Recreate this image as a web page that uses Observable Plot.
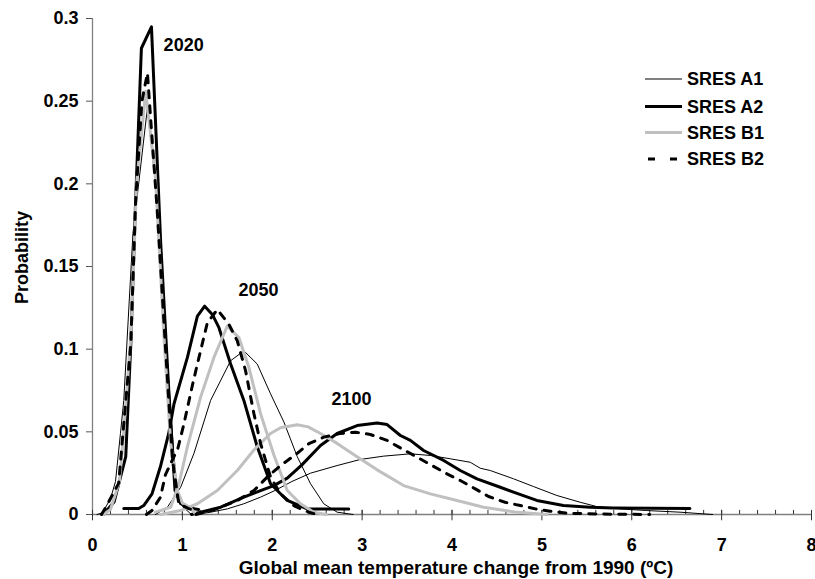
<!DOCTYPE html>
<html><head><meta charset="utf-8">
<script src="https://cdn.jsdelivr.net/npm/d3@7"></script>
<script src="https://cdn.jsdelivr.net/npm/@observablehq/plot@0.6"></script>
<style>
body{margin:0;background:#fff;}
#wrap{position:relative;width:815px;height:579px;font-family:"Liberation Sans",Arial,sans-serif;}
#legend{position:absolute;left:640px;top:60px;}
</style></head><body><div id="wrap"></div>
<script>
// ---- data: [temperature change (ºC), probability] ----
const a1_2020 = [[0.05,0],[0.11,0.001],[0.2,0.0095],[0.256,0.02],[0.311,0.049],[0.348,0.069],[0.45,0.17],[0.611,0.246],[0.7,0.2],[0.8,0.12],[0.9,0.04],[0.944,0.013],[1.0,0.005],[1.1,0]];
const a2_2020 = [[0.12,0],[0.24,0.0075],[0.37,0.035],[0.426,0.103],[0.48,0.19],[0.544,0.282],[0.656,0.295],[0.759,0.164],[0.851,0.073],[0.918,0.0145],[0.981,0.0066],[1.11,0.0036],[1.18,0.003]];
const b1_2020 = [[0.12,0],[0.2,0.003],[0.3,0.02],[0.34,0.045],[0.43,0.11],[0.49,0.2],[0.592,0.256],[0.7,0.204],[0.8,0.103],[0.87,0.043],[0.944,0.0145],[1.0,0.007],[1.09,0.004],[1.15,0]];
const b2_2020 = [[0.1,0],[0.144,0.004],[0.292,0.019],[0.329,0.043],[0.426,0.103],[0.48,0.19],[0.55,0.25],[0.611,0.267],[0.72,0.184],[0.81,0.103],[0.89,0.033],[0.96,0.0065],[1.07,0.0036],[1.15,0.002]];

const a1_2050 = [[0.7,0],[0.833,0.0044],[0.981,0.0165],[1.129,0.037],[1.314,0.069],[1.537,0.093],[1.684,0.099],[1.833,0.091],[1.981,0.073],[2.129,0.056],[2.278,0.035],[2.426,0.0186],[2.573,0.0065],[2.722,0.0014],[2.9,0]];
const a2_2050 = [[0.348,0.0036],[0.514,0.0036],[0.57,0.0054],[0.662,0.0125],[0.756,0.029],[0.848,0.049],[0.907,0.067],[1.056,0.095],[1.167,0.12],[1.248,0.126],[1.333,0.121],[1.407,0.113],[1.537,0.091],[1.684,0.069],[1.833,0.041],[1.981,0.0186],[2.167,0.0085],[2.389,0.0034],[2.851,0.0034]];
const b1_2050 = [[0.7,0.0014],[0.87,0.0044],[0.962,0.0186],[1.056,0.041],[1.203,0.071],[1.351,0.095],[1.5,0.114],[1.629,0.107],[1.74,0.089],[1.87,0.061],[2.018,0.036],[2.167,0.0145],[2.314,0.0065],[2.462,0.0014],[2.6,0]];
const b2_2050 = [[0.6,0],[0.662,0.0024],[0.756,0.0105],[0.811,0.024],[0.95,0.04],[1.018,0.055],[1.111,0.078],[1.167,0.091],[1.278,0.116],[1.389,0.124],[1.518,0.115],[1.611,0.105],[1.703,0.087],[1.796,0.061],[1.87,0.043],[1.981,0.0226],[2.092,0.0125],[2.25,0.005],[2.407,0.0014],[2.5,0]];

const a1_2100 = [[1.15,0],[1.314,0.0014],[1.5,0.0034],[1.684,0.0065],[1.87,0.0105],[2.03,0.0145],[2.22,0.02],[2.426,0.025],[2.722,0.0296],[2.981,0.0333],[3.24,0.0353],[3.537,0.0367],[3.759,0.0357],[3.981,0.0337],[4.203,0.0316],[4.314,0.028],[4.426,0.0266],[4.684,0.0216],[4.907,0.0169],[5.167,0.0115],[5.426,0.0074],[5.611,0.0048],[5.87,0.0034],[6.167,0.0024],[6.537,0.0014],[6.9,0]];
const a2_2100 = [[1.1,0],[1.203,0.0014],[1.426,0.0044],[1.684,0.0105],[1.87,0.0145],[2.018,0.0175],[2.167,0.022],[2.33,0.03],[2.537,0.0417],[2.722,0.049],[2.944,0.0538],[3.167,0.0553],[3.278,0.0544],[3.426,0.0478],[3.537,0.0448],[3.684,0.0387],[3.907,0.0327],[4.092,0.0266],[4.278,0.0215],[4.537,0.0165],[4.684,0.0135],[4.944,0.0085],[5.24,0.0054],[5.537,0.0044],[5.796,0.004],[6.647,0.0036]];
const b1_2100 = [[0.759,0],[0.981,0.0024],[1.167,0.0065],[1.389,0.0145],[1.611,0.0266],[1.796,0.039],[1.981,0.049],[2.092,0.0525],[2.278,0.0543],[2.4,0.053],[2.537,0.049],[2.722,0.043],[2.944,0.035],[3.167,0.027],[3.462,0.0175],[3.759,0.0125],[4.056,0.0085],[4.351,0.0044],[4.7,0.0015],[5.056,0]];
const b2_2100 = [[1.15,0],[1.296,0.002],[1.426,0.0044],[1.611,0.0085],[1.796,0.0145],[1.944,0.0226],[2.092,0.0296],[2.259,0.0362],[2.407,0.0428],[2.573,0.0468],[2.75,0.049],[2.926,0.0498],[3.092,0.0484],[3.278,0.0448],[3.444,0.0397],[3.611,0.0347],[3.778,0.0296],[3.944,0.0246],[4.092,0.0206],[4.259,0.0155],[4.407,0.0109],[4.59,0.0074],[4.76,0.0054],[4.926,0.0034],[5.09,0.002],[5.278,0.0008],[5.6,0.0003],[6.2,0]];

const scenarios = ["SRES A1","SRES A2","SRES B1","SRES B2"];
const years = ["2020","2050","2100"];
const yearLabelX = [1.014, 1.848, 2.881];
const yearLabelY = [0.284, 0.1355, 0.0699];
const xTicks = [0,1,2,3,4,5,6,7,8];
const yTicks = [0,0.05,0.1,0.15,0.2,0.25,0.3];
const yTickLabels = ["0","0.05","0.1","0.15","0.2","0.25","0.3"];
const xTitle = "Global mean temperature change from 1990 (ºC)";
const yTitle = "Probability";

const seriesByScenario = {
  "SRES A1": [a1_2020, a1_2050, a1_2100],
  "SRES A2": [a2_2020, a2_2050, a2_2100],
  "SRES B1": [b1_2020, b1_2050, b1_2100],
  "SRES B2": [b2_2020, b2_2050, b2_2100]
};
const styles = {
  "SRES A1": {stroke: "#000", strokeWidth: 1},
  "SRES A2": {stroke: "#000", strokeWidth: 3},
  "SRES B1": {stroke: "#c0c0c0", strokeWidth: 3},
  "SRES B2": {stroke: "#000", strokeWidth: 3, strokeDasharray: "7,8"}
};
function rows(s) {
  return seriesByScenario[s].flatMap((arr, i) => arr.map(([x, y]) => ({x, y, year: years[i]})));
}
const minorTicks = d3.range(1, 40).map(i => Math.round(i * 2) / 10);
const labels = years.map((t, i) => ({t, x: yearLabelX[i], y: yearLabelY[i]}));

const chart = Plot.plot({
  width: 815, height: 579,
  marginLeft: 92, marginRight: 4, marginTop: 18, marginBottom: 65,
  x: {domain: [0, 8]},
  y: {domain: [0, 0.3]},
  style: {fontFamily: '"Liberation Sans", Arial, sans-serif', fontSize: "18px", fontWeight: "bold", background: "#fff", color: "#000"},
  marks: [
    Plot.ruleY([0], {stroke: "#808080", strokeWidth: 1.3}),
    Plot.ruleX([0], {stroke: "#808080", strokeWidth: 1.3}),
    Plot.ruleX(minorTicks, {x: d => d, y1: 0, y2: 0.0025, stroke: "#333"}),
    Plot.ruleX(xTicks, {x: d => d, y1: -0.0038, y2: 0.0025, stroke: "#333"}),
    Plot.axisX({ticks: xTicks, tickSize: 0, tickPadding: 24, label: null}),
    Plot.axisY({ticks: yTicks, tickFormat: (d) => yTickLabels[yTicks.indexOf(d)], tickSize: 6, tickPadding: 8, label: null, stroke: "#555"}),
    ...scenarios.map(s => Plot.line(rows(s), {x: "x", y: "y", z: "year", ...styles[s], strokeLinejoin: "round"})),
    Plot.text(labels, {x: "x", y: "y", text: "t"}),
    Plot.text([xTitle], {frameAnchor: "bottom", dx: 4, dy: 53, lineAnchor: "middle", fontSize: 19}),
    Plot.text([yTitle], {frameAnchor: "left", textAnchor: "middle", rotate: -90, dx: -70, dy: -9, lineAnchor: "middle"})
  ]
});
const wrap = document.getElementById("wrap");
wrap.appendChild(chart);

// legend
const lg = d3.select(wrap).append("svg").attr("id", "legend").attr("width", 175).attr("height", 120)
  .style("font-family", '"Liberation Sans", Arial, sans-serif').style("font-size", "18px").style("font-weight", "bold");
const rowY = [19, 46.5, 72.5, 99];
scenarios.forEach((s, i) => {
  const st = styles[s];
  const ln = lg.append("line").attr("y1", rowY[i]).attr("y2", rowY[i])
    .attr("stroke", st.stroke).attr("stroke-width", st.strokeWidth);
  if (s === "SRES B2") ln.attr("x1", 8).attr("x2", 40).attr("stroke-dasharray", "7,15");
  else ln.attr("x1", 5).attr("x2", 42);
  lg.append("text").attr("x", 47).attr("y", rowY[i]).attr("dy", "0.36em").text(s);
});
</script></body></html>
